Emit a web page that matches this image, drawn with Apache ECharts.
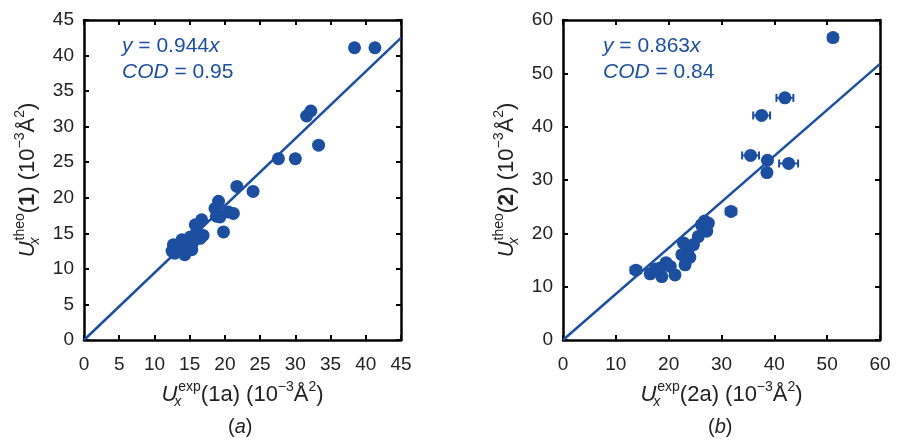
<!DOCTYPE html>
<html>
<head>
<meta charset="utf-8">
<script src="https://cdn.jsdelivr.net/npm/echarts@6/dist/echarts.min.js"></script>
<style>
  html, body { margin: 0; padding: 0; background: #fff; }
  #chart { width: 897px; height: 439px; }
</style>
</head>
<body>
<div id="chart"></div>
<script>
// panel (a): U_x exp(1a) vs U_x theo(1)
const expX1 = [38.4, 41.3, 31.6, 32.2, 33.3, 27.6, 30.0, 21.7, 24.0, 19.1, 18.6, 18.8, 20.5, 21.2, 19.3, 19.8, 16.7, 15.8, 16.0, 16.5, 15.1, 13.9, 12.7, 12.9, 14.3, 15.3, 13.6, 15.5, 16.9, 14.6, 12.5];
const theoY1 = [41.1, 41.1, 31.5, 32.2, 27.4, 25.5, 25.5, 21.6, 20.9, 19.5, 18.5, 17.4, 18.0, 17.8, 17.3, 15.2, 16.9, 16.2, 15.2, 14.3, 14.5, 14.1, 13.4, 12.2, 12.0, 12.7, 12.9, 13.8, 14.7, 13.1, 12.5];
const fit1 = [[0, 0], [45, 42.48]];

// panel (b): U_x exp(2a) vs U_x theo(2), with horizontal error
const expX2 = [51.1, 42.0, 37.6, 35.5, 38.7, 42.7, 38.6, 31.8, 13.8, 16.5, 18.7, 18.4, 21.2, 20.3, 23.1, 22.5, 23.7, 24.7, 25.6, 27.2, 26.2, 27.5, 22.8, 19.5, 17.5, 24.0, 26.8];
const theoY2 = [56.7, 45.4, 42.1, 34.6, 33.7, 33.1, 31.4, 24.1, 13.1, 12.4, 11.9, 13.5, 12.2, 13.8, 14.1, 16.0, 16.9, 17.9, 19.4, 20.4, 21.6, 21.9, 18.2, 14.5, 13.3, 15.5, 22.3];
const errX2 = [0.9, 1.6, 1.6, 1.6, 0.5, 1.8, 0.5, 1.0, 1.0, 0.8, 0.8, 0.8, 0.8, 0.8, 0.8, 0.8, 0.8, 0.8, 0.8, 0.8, 0.8, 0.8, 0.8, 0.8, 0.8, 0.8, 0.8];
const fit2 = [[0, 0], [60, 51.78]];

const ticks1 = { min: 0, max: 45, interval: 5 };
const ticks2 = { min: 0, max: 60, interval: 10 };

const BLUE = "#1c4f9f";
const FONT = "Liberation Sans";

const nameRich = {
  u: { fontFamily: FONT, fontSize: 22, fontStyle: "italic", color: "#222" },
  sub: { fontFamily: FONT, fontSize: 14, fontStyle: "italic", color: "#222", padding: [15, 0, 0, 0], width: 1 },
  sup: { fontFamily: FONT, fontSize: 14, color: "#222", padding: [0, 0, 15, 0] },
  n: { fontFamily: FONT, fontSize: 22, color: "#222" },
  b: { fontFamily: FONT, fontSize: 22, fontWeight: "bold", color: "#222" },
};

function axisPair(dir, gridIndex, t, name, nameGap) {
  const main = {
    type: "value",
    gridIndex: gridIndex,
    min: t.min, max: t.max, interval: t.interval,
    position: dir === "x" ? "bottom" : "left",
    splitLine: { show: false },
    axisLine: { show: true, onZero: false, lineStyle: { color: "#000", width: 2.5 } },
    axisTick: { show: true, inside: true, length: 5, lineStyle: { color: "#000", width: 2 } },
    axisLabel: { color: "#222", fontFamily: FONT, fontSize: 19, margin: dir === "x" ? 15 : 10 },
    name: name,
    nameLocation: "middle",
    nameGap: nameGap,
    nameTextStyle: { rich: nameRich },
  };
  const mirror = {
    type: "value",
    gridIndex: gridIndex,
    min: t.min, max: t.max, interval: t.interval,
    position: dir === "x" ? "top" : "right",
    splitLine: { show: false },
    axisLine: { show: true, onZero: false, lineStyle: { color: "#000", width: 2.5 } },
    axisTick: { show: true, inside: true, length: 5, lineStyle: { color: "#000", width: 2 } },
    axisLabel: { show: false },
  };
  return [main, mirror];
}

function renderErr(params, api) {
  const y = api.value(1);
  const lo = api.coord([api.value(0) - api.value(2), y]);
  const hi = api.coord([api.value(0) + api.value(2), y]);
  const h = 4;
  const st = { stroke: BLUE, lineWidth: 2 };
  return {
    type: "group",
    children: [
      { type: "line", shape: { x1: lo[0], y1: lo[1], x2: hi[0], y2: hi[1] }, style: st },
      { type: "line", shape: { x1: lo[0], y1: lo[1] - h, x2: lo[0], y2: lo[1] + h }, style: st },
      { type: "line", shape: { x1: hi[0], y1: hi[1] - h, x2: hi[0], y2: hi[1] + h }, style: st },
    ],
  };
}

const x1 = axisPair("x", 0, ticks1, "{u|U}{sub|x}{sup|exp}{n|(1a) (10}{sup|−3}{n|Å}{sup|2}{n|)}", 40);
const y1 = axisPair("y", 0, ticks1, "{u|U}{sub|x}{sup|theo}{n|(}{b|1}{n|) (10}{sup|−3}{n|Å}{sup|2}{n|)}", 42);
const x2 = axisPair("x", 1, ticks2, "{u|U}{sub|x}{sup|exp}{n|(2a) (10}{sup|−3}{n|Å}{sup|2}{n|)}", 40);
const y2 = axisPair("y", 1, ticks2, "{u|U}{sub|x}{sup|theo}{n|(}{b|2}{n|) (10}{sup|−3}{n|Å}{sup|2}{n|)}", 42);

const annRich = {
  i: { fontFamily: FONT, fontSize: 21, fontStyle: "italic", fill: BLUE },
  n: { fontFamily: FONT, fontSize: 21, fill: BLUE },
};
const capRich = {
  i: { fontFamily: FONT, fontSize: 20, fontStyle: "italic", fill: "#222" },
  n: { fontFamily: FONT, fontSize: 20, fill: "#222" },
};

const chart = echarts.init(document.getElementById("chart"), null, { renderer: "canvas" });
chart.setOption({
  animation: false,
  backgroundColor: "#fff",
  grid: [
    { left: 84, top: 20, width: 317, height: 320 },
    { left: 563, top: 20, width: 317, height: 320 },
  ],
  xAxis: [x1[0], x1[1], x2[0], x2[1]],
  yAxis: [y1[0], y1[1], y2[0], y2[1]],
  series: [
    {
      type: "scatter", xAxisIndex: 0, yAxisIndex: 0,
      data: expX1.map((v, i) => [v, theoY1[i]]),
      symbolSize: 13, itemStyle: { color: BLUE, opacity: 1 },
    },
    {
      type: "line", xAxisIndex: 0, yAxisIndex: 0, data: fit1,
      showSymbol: false, lineStyle: { color: BLUE, width: 2.5 }, z: 3,
    },
    {
      type: "custom", xAxisIndex: 2, yAxisIndex: 2,
      data: expX2.map((v, i) => [v, theoY2[i], errX2[i]]),
      renderItem: renderErr, z: 1,
    },
    {
      type: "scatter", xAxisIndex: 2, yAxisIndex: 2,
      data: expX2.map((v, i) => [v, theoY2[i]]),
      symbolSize: 13, itemStyle: { color: BLUE, opacity: 1 },
    },
    {
      type: "line", xAxisIndex: 2, yAxisIndex: 2, data: fit2,
      showSymbol: false, lineStyle: { color: BLUE, width: 2.5 }, z: 3,
    },
  ],
  graphic: [
    { type: "text", left: 122, top: 36, style: { text: "{i|y}{n| = 0.944}{i|x}", rich: annRich } },
    { type: "text", left: 122, top: 62, style: { text: "{i|COD}{n| = 0.95}", rich: annRich } },
    { type: "text", left: 603, top: 36, style: { text: "{i|y}{n| = 0.863}{i|x}", rich: annRich } },
    { type: "text", left: 603, top: 62, style: { text: "{i|COD}{n| = 0.84}", rich: annRich } },
    { type: "text", left: 228, top: 417, style: { text: "{n|(}{i|a}{n|)}", rich: capRich } },
    { type: "text", left: 708, top: 417, style: { text: "{n|(}{i|b}{n|)}", rich: capRich } },
  ],
});
</script>
</body>
</html>
